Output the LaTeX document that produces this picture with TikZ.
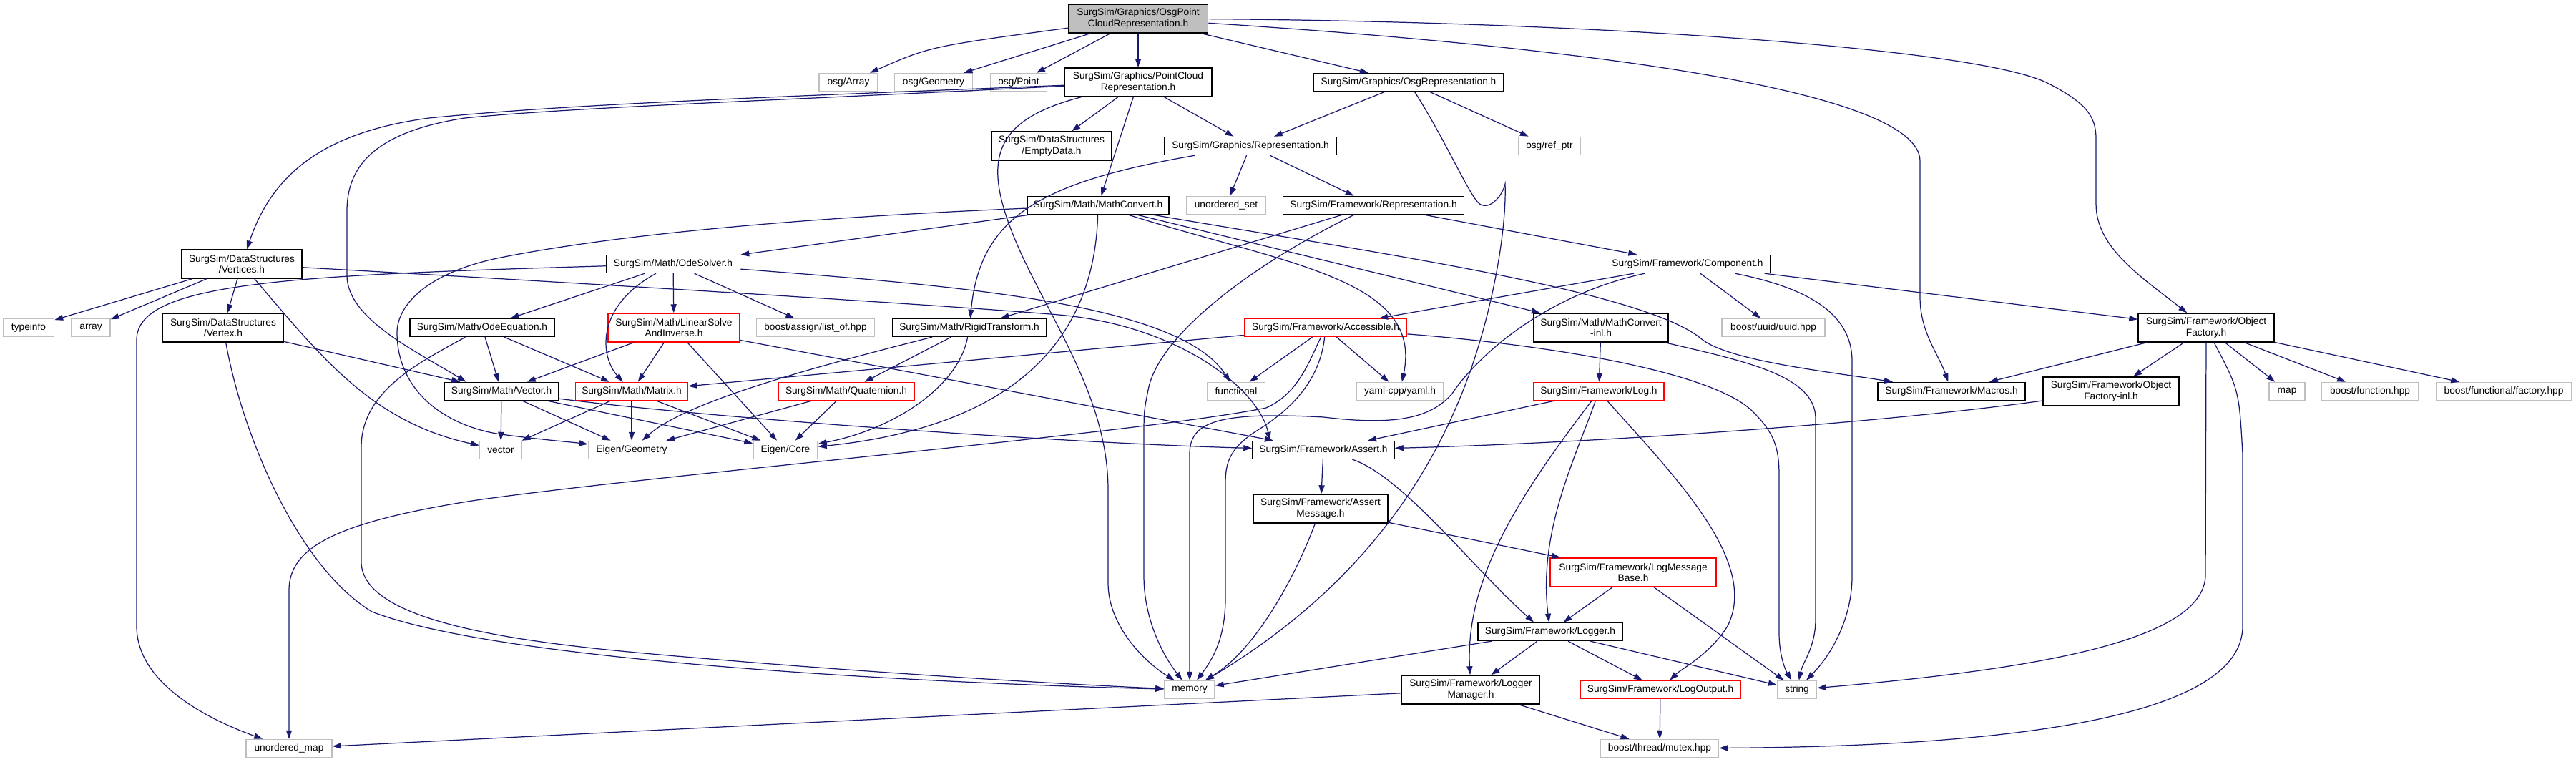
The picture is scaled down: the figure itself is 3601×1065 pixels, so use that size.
\documentclass[tikz,border=0pt]{standalone}
\usepackage{fontspec}
\newfontfamily\dxfont{Liberation Sans}
\usetikzlibrary{arrows.meta}
\definecolor{Edge}{HTML}{191970}
\definecolor{Ext}{HTML}{BFBFBF}
\definecolor{Trunc}{HTML}{FF0000}
\tikzset{
  filebox/.style={rectangle,draw=black,line width=0.4pt,fill=white,inner sep=0pt,
    minimum height=0.25cm,align=center,font=\dxfont\fontsize{3.9}{4.3}\selectfont},
  twoline/.style={minimum height=0.40cm},
  extbox/.style={filebox,draw=Ext},
  redbox/.style={filebox,draw=Trunc},
  rootbox/.style={filebox,twoline,fill=Ext},
  incarrow/.style={-{Triangle[length=1.2mm,width=0.8mm]},draw=Edge,line width=0.35pt},
}

\begin{document}
\begin{tikzpicture}[x=0.01cm,y=0.01cm]
\useasboundingbox (0,0) rectangle (3601,1065);

% rank 1 and 2
\node[rootbox,minimum width=1.95cm] (root) at (1591,1039) {SurgSim/Graphics/OsgPoint\\CloudRepresentation.h};
\node[extbox,minimum width=0.82cm] (osgarray) at (1186,950) {osg/Array};
\node[extbox,minimum width=1.09cm] (osggeom) at (1305,950) {osg/Geometry};
\node[extbox,minimum width=0.79cm] (osgpoint) at (1424,950) {osg/Point};
\node[filebox,twoline,minimum width=2.06cm] (pcrep) at (1591,950) {SurgSim/Graphics/PointCloud\\Representation.h};
\node[filebox,minimum width=2.66cm] (osgrep) at (1969,950) {SurgSim/Graphics/OsgRepresentation.h};

% rank 3 and 4
\node[filebox,twoline,minimum width=1.68cm] (emptydata) at (1470,861) {SurgSim/DataStructures\\/EmptyData.h};
\node[filebox,minimum width=2.40cm] (grep) at (1748,861) {SurgSim/Graphics/Representation.h};
\node[extbox,minimum width=0.86cm] (refptr) at (2166,861) {osg/ref\_ptr};
\node[filebox,minimum width=1.98cm] (mathconv) at (1535,778) {SurgSim/Math/MathConvert.h};
\node[extbox,minimum width=1.11cm] (uset) at (1714,778) {unordered\_set};
\node[filebox,minimum width=2.53cm] (frep) at (1920,778) {SurgSim/Framework/Representation.h};

% rank 5 and 6
\node[filebox,twoline,minimum width=1.68cm] (vertices) at (338,696) {SurgSim/DataStructures\\/Vertices.h};
\node[filebox,minimum width=1.87cm] (odesolver) at (941,696) {SurgSim/Math/OdeSolver.h};
\node[filebox,minimum width=2.31cm] (component) at (2359,696) {SurgSim/Framework/Component.h};
\node[extbox,minimum width=0.71cm] (typeinfo) at (40,607) {typeinfo};
\node[extbox,minimum width=0.54cm] (array) at (127,607) {array};
\node[filebox,twoline,minimum width=1.69cm] (vertex) at (312,607) {SurgSim/DataStructures\\/Vertex.h};
\node[filebox,minimum width=2.02cm] (odeeq) at (674,607) {SurgSim/Math/OdeEquation.h};
\node[redbox,twoline,minimum width=1.84cm] (linsolve) at (942,607) {SurgSim/Math/LinearSolve\\AndInverse.h};
\node[extbox,minimum width=1.65cm] (listof) at (1140,607) {boost/assign/list\_of.hpp};
\node[filebox,minimum width=2.15cm] (rigid) at (1355,607) {SurgSim/Math/RigidTransform.h};
\node[redbox,minimum width=2.27cm] (access) at (1853,607) {SurgSim/Framework/Accessible.h};
\node[filebox,twoline,minimum width=1.88cm] (mcinl) at (2238,607) {SurgSim/Math/MathConvert\\-inl.h};
\node[extbox,minimum width=1.44cm] (uuid) at (2479,607) {boost/uuid/uuid.hpp};
\node[filebox,twoline,minimum width=1.90cm] (objfac) at (3084,607) {SurgSim/Framework/Object\\Factory.h};

% rank 7 and 8
\node[filebox,minimum width=1.60cm] (vector) at (701,518) {SurgSim/Math/Vector.h};
\node[redbox,minimum width=1.57cm] (matrix) at (883,518) {SurgSim/Math/Matrix.h};
\node[redbox,minimum width=1.90cm] (quat) at (1183,518) {SurgSim/Math/Quaternion.h};
\node[extbox,minimum width=0.81cm] (functional) at (1728,518) {functional};
\node[extbox,minimum width=1.22cm] (yaml) at (1957,518) {yaml-cpp/yaml.h};
\node[redbox,minimum width=1.82cm] (log) at (2235,518) {SurgSim/Framework/Log.h};
\node[filebox,minimum width=2.06cm] (macros) at (2728,518) {SurgSim/Framework/Macros.h};
\node[filebox,twoline,minimum width=1.90cm] (objfacinl) at (2951,518) {SurgSim/Framework/Object\\Factory-inl.h};
\node[extbox,minimum width=0.50cm] (map) at (3197,518) {map};
\node[extbox,minimum width=1.35cm] (bfunc) at (3313,518) {boost/function.hpp};
\node[extbox,minimum width=1.89cm] (bfactory) at (3500,518) {boost/functional/factory.hpp};
\node[extbox,minimum width=0.59cm] (vec) at (700,436) {vector};
\node[extbox,minimum width=1.21cm] (egeom) at (883,436) {Eigen/Geometry};
\node[extbox,minimum width=0.90cm] (ecore) at (1098,436) {Eigen/Core};
\node[filebox,minimum width=1.98cm] (assert) at (1850,436) {SurgSim/Framework/Assert.h};

% logging ranks
\node[filebox,twoline,minimum width=1.88cm] (assertmsg) at (1846,354) {SurgSim/Framework/Assert\\Message.h};
\node[redbox,twoline,minimum width=2.32cm] (logmsg) at (2283,265) {SurgSim/Framework/LogMessage\\Base.h};
\node[filebox,minimum width=2.02cm] (logger) at (2167,182) {SurgSim/Framework/Logger.h};
\node[extbox,minimum width=0.70cm] (memory) at (1663,101) {memory};
\node[filebox,twoline,minimum width=1.93cm] (logmgr) at (2056,101) {SurgSim/Framework/Logger\\Manager.h};
\node[redbox,minimum width=2.24cm] (logout) at (2321,101) {SurgSim/Framework/LogOutput.h};
\node[extbox,minimum width=0.55cm] (string) at (2512,101) {string};
\node[extbox,minimum width=1.20cm] (umap) at (404,19) {unordered\_map};
\node[extbox,minimum width=1.65cm] (mutex) at (2320,19) {boost/thread/mutex.hpp};

% include edges
\draw[incarrow] (root) .. controls (1300,1000) .. (osgarray);
\draw[incarrow] (root) -- (osggeom);
\draw[incarrow] (root) -- (osgpoint);
\draw[incarrow] (root) -- (pcrep);
\draw[incarrow] (root) -- (osgrep);
\draw[incarrow] (root) .. controls (2200,1000) and (2684,940) .. (2684,840) -- (2684,650) .. controls (2684,600) and (2710,570) .. (macros);
\draw[incarrow] (root) .. controls (2200,1035) and (2750,1000) .. (2860,950) .. controls (2920,920) and (2930,900) .. (2930,870) -- (2930,780) .. controls (2930,720) and (2990,680) .. (objfac);

\draw[incarrow] (pcrep) .. controls (1100,930) and (800,920) .. (600,900) .. controls (450,880) and (380,820) .. (vertices);
\draw[incarrow] (pcrep) .. controls (1100,925) and (800,915) .. (650,900) .. controls (520,880) and (485,830) .. (485,770) -- (485,680) .. controls (485,620) and (580,575) .. (vector.165);
\draw[incarrow] (pcrep) .. controls (1380,895) and (1370,835) .. (1430,705) .. controls (1480,600) and (1549,500) .. (1549,380) -- (1549,250) .. controls (1549,190) and (1600,140) .. (memory);
\draw[incarrow] (pcrep) -- (emptydata);
\draw[incarrow] (pcrep) -- (mathconv);
\draw[incarrow] (pcrep) -- (grep);

\draw[incarrow] (osgrep) -- (grep);
\draw[incarrow] (osgrep) -- (refptr);
\draw[incarrow] (osgrep) .. controls (2020,870) and (2050,800) .. (2066,782) .. controls (2080,768) and (2100,790) .. (2104,808) .. controls (2106,750) and (2090,650) .. (2060,560) .. controls (2000,380) and (1880,230) .. (memory);

\draw[incarrow] (grep) .. controls (1450,810) and (1370,760) .. (rigid);
\draw[incarrow] (grep) -- (uset);
\draw[incarrow] (grep) -- (frep);

\draw[incarrow] (mathconv) -- (odesolver);
\draw[incarrow] (mathconv) .. controls (1100,760) and (850,735) .. (700,705) .. controls (600,685) and (555,640) .. (555,600) .. controls (555,520) and (620,470) .. (700,458) .. controls (760,450) and (800,447) .. (egeom);
\draw[incarrow] (mathconv) .. controls (1530,600) and (1430,470) .. (ecore);
\draw[incarrow] (mathconv) .. controls (1800,695) and (1990,675) .. (yaml);
\draw[incarrow] (mathconv) -- (mcinl);
\draw[incarrow] (mathconv) .. controls (1900,715) and (2300,660) .. (2380,590) .. controls (2420,560) and (2560,545) .. (macros);

\draw[incarrow] (odesolver) -- (odeeq);
\draw[incarrow] (odesolver) .. controls (830,635) and (840,565) .. (matrix);
\draw[incarrow] (odesolver) -- (linsolve);
\draw[incarrow] (odesolver) -- (listof);
\draw[incarrow] (odesolver) .. controls (1350,665) and (1650,640) .. (functional);
\draw[incarrow] (odesolver) .. controls (400,680) and (191,670) .. (191,590) -- (191,190) .. controls (191,110) and (290,60) .. (umap);

\draw[incarrow] (vertices) -- (typeinfo);
\draw[incarrow] (vertices) -- (array);
\draw[incarrow] (vertices) -- (vertex);
\draw[incarrow] (vertices) .. controls (450,565) and (520,475) .. (vec);
\draw[incarrow] (vertices) .. controls (800,670) and (1300,640) .. (1480,625) .. controls (1650,610) and (1760,520) .. (assert.170);

\draw[incarrow] (vertex) -- (vector);
\draw[incarrow] (vertex) .. controls (340,450) and (420,270) .. (520,210) .. controls (700,140) and (1300,110) .. (memory);

\draw[incarrow] (odeeq) -- (vector);
\draw[incarrow] (odeeq) -- (matrix);
\draw[incarrow] (odeeq) .. controls (590,560) and (505,520) .. (505,440) -- (505,280) .. controls (505,200) and (700,170) .. (900,152) .. controls (1200,125) and (1500,108) .. (memory);

\draw[incarrow] (linsolve) -- (matrix);
\draw[incarrow] (linsolve) -- (vector);
\draw[incarrow] (linsolve) -- (ecore);
\draw[incarrow] (linsolve) -- (assert);

\draw[incarrow] (rigid) .. controls (1150,555) and (960,505) .. (egeom);
\draw[incarrow] (rigid) -- (quat);
\draw[incarrow] (rigid) .. controls (1340,525) and (1250,465) .. (ecore);
\draw[incarrow] (quat) -- (egeom);
\draw[incarrow] (quat) -- (ecore);
\draw[incarrow] (matrix) -- (vec);
\draw[incarrow] (matrix) -- (egeom);
\draw[incarrow] (matrix) -- (ecore);
\draw[incarrow] (vector) -- (vec);
\draw[incarrow] (vector) -- (egeom);
\draw[incarrow] (vector) -- (ecore);
\draw[incarrow] (vector) .. controls (1000,480) and (1500,445) .. (assert);

\draw[incarrow] (access) -- (matrix);
\draw[incarrow] (access) -- (functional);
\draw[incarrow] (access) -- (yaml);
\draw[incarrow] (access) .. controls (1845,530) and (1800,490) .. (1760,465) .. controls (1720,440) and (1713,420) .. (1713,390) -- (1713,230) .. controls (1713,180) and (1700,150) .. (memory);
\draw[incarrow] (access) .. controls (2200,580) and (2400,540) .. (2450,490) .. controls (2480,460) and (2487,440) .. (2487,400) -- (2487,180) .. controls (2487,150) and (2495,130) .. (string);
\draw[incarrow] (access) .. controls (1830,560) and (1815,515) .. (1770,495) .. controls (1600,460) and (900,400) .. (660,365) .. controls (470,335) and (404,300) .. (404,240) -- (umap);

\draw[incarrow] (component) -- (access);
\draw[incarrow] (component) -- (uuid);
\draw[incarrow] (component) -- (objfac);
\draw[incarrow] (component) .. controls (2150,650) and (2060,560) .. (2030,515) .. controls (2000,480) and (1950,470) .. (1850,482) .. controls (1700,490) and (1663,475) .. (1663,430) -- (memory);
\draw[incarrow] (component) .. controls (2540,660) and (2589,620) .. (2589,560) -- (2589,260) .. controls (2589,200) and (2560,150) .. (string);

\draw[incarrow] (frep) -- (component);
\draw[incarrow] (frep) -- (rigid);
\draw[incarrow] (frep) .. controls (1760,700) and (1620,600) .. (1605,520) .. controls (1599,490) .. (1599,450) -- (1599,260) .. controls (1599,200) and (1625,150) .. (memory);

\draw[incarrow] (mcinl) -- (log);
\draw[incarrow] (mcinl) .. controls (2440,560) and (2538,540) .. (2538,480) -- (2538,200) .. controls (2538,160) and (2520,140) .. (string);

\draw[incarrow] (log) -- (assert);
\draw[incarrow] (log) .. controls (2200,420) and (2150,320) .. (logger);
\draw[incarrow] (log) .. controls (2130,380) and (2048,260) .. (logmgr);
\draw[incarrow] (log) .. controls (2340,400) and (2460,280) .. (2415,190) .. controls (2390,150) and (2350,130) .. (logout);

\draw[incarrow] (objfac) -- (macros);
\draw[incarrow] (objfac) -- (objfacinl);
\draw[incarrow] (objfac) -- (map);
\draw[incarrow] (objfac) -- (bfunc);
\draw[incarrow] (objfac) -- (bfactory);
\draw[incarrow] (objfac) -- (3083,262) .. controls (3083,170) and (2850,130) .. (string);
\draw[incarrow] (objfac) .. controls (3130,520) .. (3135,430) -- (3135,190) .. controls (3135,60) and (2800,22) .. (mutex);
\draw[incarrow] (objfacinl) .. controls (2600,470) and (2200,445) .. (assert);

\draw[incarrow] (assert) -- (assertmsg);
\draw[incarrow] (assert) .. controls (1960,400) and (2060,270) .. (logger.150);
\draw[incarrow] (assertmsg) -- (logmsg);
\draw[incarrow] (assertmsg) .. controls (1815,270) and (1760,160) .. (memory);
\draw[incarrow] (logmsg) -- (logger);
\draw[incarrow] (logmsg) -- (string);
\draw[incarrow] (logger) -- (memory);
\draw[incarrow] (logger) -- (logmgr);
\draw[incarrow] (logger) -- (logout);
\draw[incarrow] (logger) -- (string);
\draw[incarrow] (logmgr) -- (umap);
\draw[incarrow] (logmgr) -- (mutex);
\draw[incarrow] (logout) -- (mutex);
\end{tikzpicture}
\end{document}
